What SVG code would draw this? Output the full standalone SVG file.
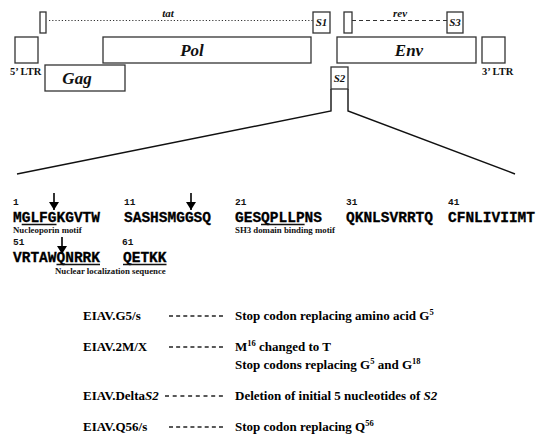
<svg xmlns="http://www.w3.org/2000/svg" width="550" height="441" viewBox="0 0 550 441">
<defs>
<marker id="ah" markerUnits="userSpaceOnUse" markerWidth="8" markerHeight="10" refX="8" refY="5" orient="auto" viewBox="0 0 8 10">
<path d="M0,0 L8,5 L0,10 Z" fill="#000"/>
</marker>
<style>
.box{fill:#fff;stroke:#333;stroke-width:1.3}
.ln{stroke:#111;stroke-width:1.4;fill:none}
.gene{font-family:"Liberation Serif",serif;font-weight:bold;font-style:italic;font-size:17px;fill:#111;text-anchor:middle}
.sm{font-family:"Liberation Serif",serif;font-weight:bold;font-style:italic;font-size:11px;fill:#111;text-anchor:middle}
.ltr{font-family:"Liberation Serif",serif;font-weight:bold;font-size:10.5px;fill:#111}
.num{font-family:"Liberation Mono",monospace;font-weight:bold;font-size:9.5px;fill:#111}
.seq{font-family:"Liberation Mono",monospace;font-weight:bold;font-size:14.5px;fill:#000;stroke:#000;stroke-width:0.3}
.mot{font-family:"Liberation Serif",serif;font-weight:bold;font-size:8.8px;fill:#111}
.ul{stroke:#111;stroke-width:1.3}
.arr{stroke:#000;stroke-width:1.6}
.lab{font-family:"Liberation Serif",serif;font-weight:bold;font-size:13px;fill:#000}
.dash{stroke:#222;stroke-width:1.3;stroke-dasharray:4 3.14}
</style>
</defs>
<rect width="550" height="441" fill="#fff"/>

<g id="connectors">
<line x1="49" y1="20.5" x2="313" y2="20.5" stroke="#333" stroke-width="1.2" stroke-dasharray="1.2 2"/>
<line x1="352" y1="20.5" x2="447" y2="20.5" stroke="#333" stroke-width="1.2" stroke-dasharray="4 3"/>
<polyline class="ln" points="331,89 331,111 17,174"/>
<polyline class="ln" points="348,89 348,111 515,174"/>
</g>

<g id="tat-exon1"><rect class="box" x="40" y="12" width="6" height="21"/></g>
<g id="tat-label"><text class="sm" x="168" y="17" font-size="10">tat</text></g>
<g id="S1"><rect class="box" x="313" y="12" width="17" height="21"/><text class="sm" x="321.5" y="26">S1</text></g>
<g id="rev-exon1"><rect class="box" x="344" y="12" width="8" height="21"/></g>
<g id="rev-label"><text class="sm" x="400" y="17" font-size="10">rev</text></g>
<g id="S3"><rect class="box" x="447" y="12" width="16" height="21"/><text class="sm" x="455" y="26">S3</text></g>

<g id="LTR5"><rect class="box" x="15" y="37" width="23" height="26"/><text class="ltr" x="10" y="75">5’ LTR</text></g>
<g id="Pol"><rect class="box" x="103" y="37" width="208" height="26"/><text class="gene" x="192" y="56">Pol</text></g>
<g id="Gag"><rect class="box" x="45" y="65" width="80" height="26"/><text class="gene" x="77" y="84">Gag</text></g>
<g id="Env"><rect class="box" x="337" y="37" width="139" height="26"/><text class="gene" x="409" y="56">Env</text></g>
<g id="LTR3"><rect class="box" x="482" y="37" width="23" height="26"/><text class="ltr" x="482" y="75">3’ LTR</text></g>
<g id="S2"><rect class="box" x="331" y="67" width="17" height="22"/><text class="sm" x="339.5" y="82">S2</text></g>

<g id="sequence">
<text class="num" x="13" y="205">1</text>
<text class="num" x="124" y="205">11</text>
<text class="num" x="235" y="205">21</text>
<text class="num" x="346" y="205">31</text>
<text class="num" x="448" y="205">41</text>
<text class="seq" x="13" y="222">MGLFGKGVTW</text>
<text class="seq" x="124" y="222">SASHSMGGSQ</text>
<text class="seq" x="235" y="222">GESQPLLPNS</text>
<text class="seq" x="346" y="222">QKNLSVRRTQ</text>
<text class="seq" x="448" y="222">CFNLIVIIMT</text>
<line class="ul" x1="21.7" y1="224.5" x2="56.5" y2="224.5"/>
<line class="ul" x1="261" y1="224.5" x2="304.6" y2="224.5"/>
<text class="mot" x="13" y="233">Nucleoporin motif</text>
<text class="mot" x="235" y="233">SH3 domain binding motif</text>
<text class="num" x="13" y="245">51</text>
<text class="num" x="122" y="245">61</text>
<text class="seq" x="13" y="262">VRTAWQNRRK</text>
<text class="seq" x="123" y="262">QETKK</text>
<line class="ul" x1="56.5" y1="264.5" x2="100" y2="264.5"/>
<line class="ul" x1="123" y1="264.5" x2="166.5" y2="264.5"/>
<text class="mot" x="55" y="274">Nuclear localization sequence</text>
<line class="arr" x1="54" y1="193" x2="54" y2="210" marker-end="url(#ah)"/>
<line class="arr" x1="191" y1="193" x2="191" y2="210" marker-end="url(#ah)"/>
<line class="arr" x1="62" y1="237" x2="62" y2="254" marker-end="url(#ah)"/>
</g>

<g id="mutants">
<text class="lab" x="83" y="320">EIAV.G5/s</text>
<line class="dash" x1="169" y1="316" x2="223" y2="316"/>
<text class="lab" x="235" y="320">Stop codon replacing amino acid G<tspan font-size="8.5" dy="-5">5</tspan></text>

<text class="lab" x="83" y="351">EIAV.2M/X</text>
<line class="dash" x1="169" y1="347" x2="223" y2="347"/>
<text class="lab" x="235" y="351">M<tspan font-size="8.5" dy="-5">16</tspan><tspan dy="5"> changed to T</tspan></text>
<text class="lab" x="235" y="369">Stop codons replacing G<tspan font-size="8.5" dy="-5">5</tspan><tspan dy="5"> and G</tspan><tspan font-size="8.5" dy="-5">18</tspan></text>

<text class="lab" x="83" y="400">EIAV.Delta<tspan font-style="italic">S2</tspan></text>
<line class="dash" x1="165" y1="396" x2="223" y2="396" style="stroke-dasharray:4 3.7"/>
<text class="lab" x="235" y="400">Deletion of initial 5 nucleotides of <tspan font-style="italic">S2</tspan></text>

<text class="lab" x="83" y="431">EIAV.Q56/s</text>
<line class="dash" x1="169" y1="427" x2="223" y2="427"/>
<text class="lab" x="235" y="431">Stop codon replacing Q<tspan font-size="8.5" dy="-5">56</tspan></text>
</g>
</svg>
